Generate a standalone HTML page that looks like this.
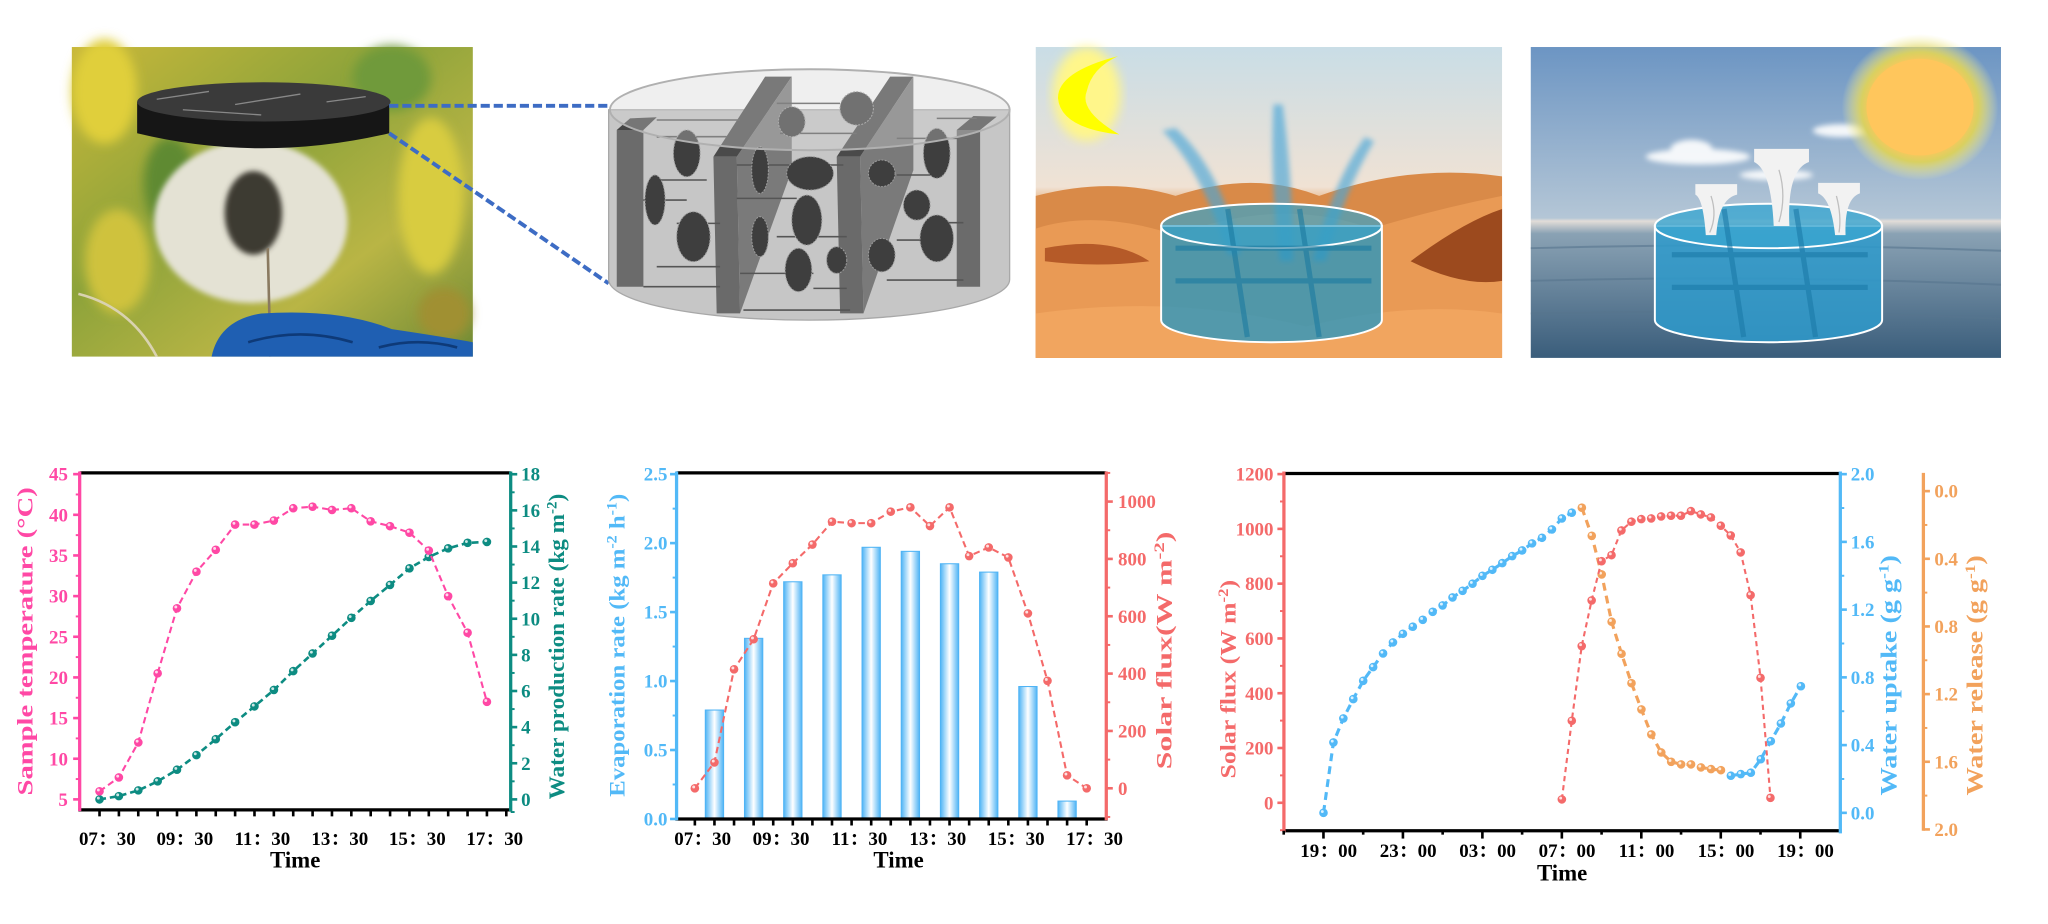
<!DOCTYPE html>
<html><head><meta charset="utf-8">
<style>
html,body{margin:0;padding:0;background:#fff;}
svg{display:block;}
text{font-family:"Liberation Serif","Noto Serif CJK SC",serif;font-weight:bold;}
</style></head>
<body>
<svg id="s" width="2048" height="924" viewBox="0 0 1568 707.4" preserveAspectRatio="none" xmlns="http://www.w3.org/2000/svg">
<defs>
<linearGradient id="bg1" x1="0" y1="0" x2="1" y2="1">
<stop offset="0" stop-color="#c9b83a"/><stop offset="0.4" stop-color="#8da33a"/><stop offset="0.7" stop-color="#b9b545"/><stop offset="1" stop-color="#6f8a35"/></linearGradient>
<filter id="blur4"><feGaussianBlur stdDeviation="4"/></filter>
<filter id="blur2"><feGaussianBlur stdDeviation="2"/></filter>
<linearGradient id="dsky" x1="0" y1="0" x2="0" y2="1">
<stop offset="0" stop-color="#c9dde6"/><stop offset="0.45" stop-color="#f0e2d4"/><stop offset="0.5" stop-color="#e8b283"/><stop offset="0.7" stop-color="#de8a45"/><stop offset="1" stop-color="#f0a55a"/></linearGradient>
<linearGradient id="ssky" x1="0" y1="0" x2="0" y2="1">
<stop offset="0" stop-color="#6c95c3"/><stop offset="0.55" stop-color="#b4c6d6"/><stop offset="0.56" stop-color="#e2ddd8"/><stop offset="0.6" stop-color="#8aa2b4"/><stop offset="1" stop-color="#3a5d7b"/></linearGradient>
<radialGradient id="sun" cx="0.5" cy="0.5" r="0.5">
<stop offset="0.6" stop-color="#ffc65c"/><stop offset="0.75" stop-color="#d9d060"/><stop offset="1" stop-color="#f5f0a0" stop-opacity="0"/></radialGradient>
<linearGradient id="bar" x1="0" y1="0" x2="1" y2="0">
<stop offset="0" stop-color="#4fb4f5"/><stop offset="0.5" stop-color="#ffffff"/><stop offset="1" stop-color="#4fb4f5"/></linearGradient>
</defs>
<g id="g"></g>
</svg>
<script>
var o=[];
function p(s){o.push(s);}
function ln(x1,y1,x2,y2,c,w,d){p('<line x1="'+x1+'" y1="'+y1+'" x2="'+x2+'" y2="'+y2+'" stroke="'+c+'" stroke-width="'+w+'"'+(d?' stroke-dasharray="'+d+'"':'')+'/>');}
function tx(x,y,s,c,fs,anc,extra){p('<text x="'+x+'" y="'+y+'" fill="'+c+'" font-size="'+fs+'" text-anchor="'+(anc||'start')+'" '+(extra||'')+'>'+s+'</text>');}
function rt(x,y,s,c,fs,len){p('<text transform="translate('+x+','+y+') rotate(-90)" fill="'+c+'" font-size="'+fs+'" text-anchor="middle" textLength="'+len+'" lengthAdjust="spacingAndGlyphs">'+s+'</text>');}
function series(pts,c,w,d){var s=pts.map(function(q){return q[0].toFixed(1)+','+q[1].toFixed(1)}).join(' ');
 p('<polyline points="'+s+'" fill="none" stroke="'+c+'" stroke-width="'+w+'" stroke-dasharray="'+d+'"/>');
 pts.forEach(function(q){p('<circle cx="'+q[0].toFixed(1)+'" cy="'+q[1].toFixed(1)+'" r="3.3" fill="'+c+'"/><circle cx="'+(q[0]-0.9).toFixed(1)+'" cy="'+(q[1]-1).toFixed(1)+'" r="1.1" fill="#fff" opacity="0.8"/>');});}
var sup=function(t){return '<tspan dy="-6" font-size="11">'+t+'</tspan><tspan dy="6">';};

/* ========== PHOTO 1 ========== */
p('<rect x="55" y="36" width="307" height="237" fill="url(#bg1)"/>');
p('<g filter="url(#blur4)"><ellipse cx="80" cy="70" rx="25" ry="40" fill="#e0cf3a"/><ellipse cx="330" cy="150" rx="25" ry="60" fill="#d8cc40"/><ellipse cx="300" cy="60" rx="30" ry="25" fill="#6f9a3a"/><ellipse cx="90" cy="200" rx="25" ry="40" fill="#cfc23c"/><ellipse cx="340" cy="240" rx="20" ry="20" fill="#a09030"/><ellipse cx="130" cy="140" rx="20" ry="35" fill="#5e8a30"/></g>');
p('<path d="M60,225 Q100,235 120,273" stroke="#d9d2b0" stroke-width="2" fill="none"/>');
p('<ellipse cx="192" cy="170" rx="74" ry="62" fill="#e4e2d4" filter="url(#blur2)"/>');
p('<ellipse cx="194" cy="163" rx="22" ry="32" fill="#3c3a32" filter="url(#blur2)"/>');
ln(205,190,207,273,"#8a7a60",2);
p('<path d="M105,78 L105,102 Q200,125 298,102 L298,78 Z" fill="#161616"/>');
p('<ellipse cx="202" cy="78" rx="97" ry="15" fill="#3a3a3a"/>');
p('<path d="M120,76 L160,70 M180,80 L230,72 M250,78 L280,74 M140,84 L200,88" stroke="#888" stroke-width="1"/>');
p('<path d="M162,273 Q168,245 200,240 Q260,236 300,252 Q340,258 362,262 L362,273 Z" fill="#1f5fb2"/>');
p('<path d="M190,262 Q230,250 270,262 M290,266 Q320,258 350,266" stroke="#0e3a78" stroke-width="2" fill="none"/>');
/* dashed connectors */
ln(298,81,466,81,"#3d6cc4",3,"7,3");
ln(298,102,466,217,"#3d6cc4",3,"7,3");

/* ========== CYLINDER ========== */
function PX(z){return (580+z/3)/1.306;} function PY(z){return (30+z/3)/1.306;}
p('<path d="M466,84 L466,214 A153,31 0 0 0 773,214 L773,84 Z" fill="#c6c6c6" stroke="#a8a8a8"/>');
function poly(arr,c){p('<polygon points="'+arr.map(function(q){return PX(q[0]).toFixed(1)+','+PY(q[1]).toFixed(1)}).join(' ')+'" fill="'+c+'"/>');}
poly([[110,300],[190,300],[190,770],[110,770]],"#6b6b6b");
poly([[110,300],[150,265],[230,262],[190,300]],"#454545");
poly([[555,140],[635,140],[470,380],[400,380]],"#4a4a4a");
poly([[400,380],[470,380],[480,850],[410,850]],"#6a6a6a");
poly([[470,380],[635,140],[635,420],[480,850]],"#7a7a7a");
poly([[930,140],[1000,140],[840,380],[770,380]],"#4a4a4a");
poly([[770,380],[840,380],[850,850],[780,850]],"#6a6a6a");
poly([[840,380],[1000,140],[1000,420],[850,850]],"#7a7a7a");
poly([[1130,300],[1200,300],[1200,770],[1130,770]],"#6b6b6b");
poly([[1130,300],[1180,258],[1250,260],[1200,300]],"#454545");
[[230,270,480],[230,320,440],[230,450,380],[190,510,320],[290,580,420],[230,710,420],[190,770,420],[590,220,780],[600,310,830],[470,405,790],[470,505,650],[590,620,800],[480,730,700],[700,775,800],[490,840,810],[950,325,1130],[950,435,1060],[1050,578,1150],[950,630,1100],[920,750,1150],[1070,265,1190]].forEach(function(r){ln(PX(r[0]),PY(r[1]),PX(r[2]),PY(r[1]),"#555",1.2);});
[[320,370,40,70],[225,510,30,75],[340,620,50,75],[635,275,40,45],[830,235,50,50],[540,420,25,70],[690,430,70,50],[680,570,45,75],[540,620,25,60],[655,720,40,65],[770,690,30,40],[905,430,40,40],[1010,525,40,45],[905,675,40,50],[1070,370,40,75],[1070,625,50,70]].forEach(function(b){
 p('<ellipse cx="'+PX(b[0]).toFixed(1)+'" cy="'+PY(b[1]).toFixed(1)+'" rx="'+(b[2]/3/1.306).toFixed(1)+'" ry="'+(b[3]/3/1.306).toFixed(1)+'" fill="#3e3e3e" stroke="#9a9a9a" stroke-width="0.8" stroke-dasharray="1.5,1"/>');});
p('<ellipse cx="620" cy="84" rx="153" ry="31" fill="#d0d0d0" fill-opacity="0.35" stroke="#b0b0b0" stroke-width="1.5"/>');

/* ========== DESERT ========== */
p('<rect x="793" y="36" width="357" height="238" fill="url(#dsky)"/>');
p('<path d="M793,150 Q850,135 900,150 Q960,130 1010,150 Q1080,125 1150,135 L1150,274 L793,274 Z" fill="#d98a48"/>');
p('<path d="M793,175 Q840,160 900,180 Q980,150 1050,175 Q1100,160 1150,150 L1150,274 L793,274 Z" fill="#e99a55"/>');
p('<path d="M1080,200 Q1120,170 1150,160 L1150,215 Q1120,220 1080,200 Z" fill="#9c4a1e"/>');
p('<path d="M800,190 Q850,180 880,200 Q840,205 800,200 Z" fill="#b55a28"/>');
p('<path d="M793,240 Q900,225 1000,250 Q1080,230 1150,240 L1150,274 L793,274 Z" fill="#f2a862" opacity="0.8"/>');
p('<g filter="url(#blur2)" opacity="0.65"><path d="M890,100 Q920,130 940,195 L950,195 Q935,130 900,98 Z" fill="#4aa6d8"/><path d="M975,80 Q972,140 980,200 L990,200 Q990,140 982,80 Z" fill="#4aa6d8"/><path d="M1045,105 Q1020,140 1005,200 L1015,200 Q1030,145 1052,108 Z" fill="#4aa6d8"/></g>');
p('<g filter="url(#blur4)"><ellipse cx="832" cy="72" rx="26" ry="36" fill="#fff68a"/></g>');
p('<path d="M856,43 Q810,55 810,75 Q812,98 857,103 Q826,85 832,70 Q836,52 856,43 Z" fill="#ffff00"/>');
p('<path d="M889,173 L889,245 A84.5,17 0 0 0 1058,245 L1058,173 Z" fill="#2796c0" fill-opacity="0.78" stroke="#fff" stroke-width="1.5"/>');
p('<ellipse cx="973.5" cy="173" rx="84.5" ry="17" fill="#3aa3c8" fill-opacity="0.7" stroke="#fff" stroke-width="1.5"/>');
p('<path d="M940,160 L955,258 M995,160 L1010,258 M900,190 L1050,190 M900,215 L1050,215" stroke="#1b7aa0" stroke-width="4" opacity="0.6"/>');

/* ========== SEA ========== */
p('<rect x="1172" y="36" width="360" height="238" fill="url(#ssky)"/>');
p('<g filter="url(#blur2)" fill="#ffffff" opacity="0.9"><ellipse cx="1300" cy="120" rx="40" ry="6"/><ellipse cx="1295" cy="114" rx="16" ry="7"/><ellipse cx="1360" cy="134" rx="28" ry="4"/><ellipse cx="1410" cy="100" rx="22" ry="5"/></g>');
p('<ellipse cx="1470" cy="82" rx="60" ry="56" fill="url(#sun)"/>');
p('<ellipse cx="1470" cy="82" rx="41" ry="37" fill="#ffc65c"/>');
p('<path d="M1172,190 Q1350,185 1532,192 M1172,215 Q1350,210 1532,218 M1172,240 Q1350,236 1532,244" stroke="#56748e" stroke-width="1.5" fill="none" opacity="0.6"/>');
p('<path d="M1267,173 L1267,245 A87,17 0 0 0 1441,245 L1441,173 Z" fill="#2e9acb" fill-opacity="0.85" stroke="#fff" stroke-width="1.5"/>');
p('<ellipse cx="1354" cy="173" rx="87" ry="17" fill="#3aa5d0" fill-opacity="0.8" stroke="#fff" stroke-width="1.5"/>');
p('<path d="M1320,160 L1335,258 M1375,160 L1390,258 M1280,195 L1430,195 M1280,220 L1430,220" stroke="#1b7aa8" stroke-width="4" opacity="0.6"/>');
p('<g fill="#f2f2f2"><path d="M1298,141 L1330,141 L1330,149 Q1316,152 1314,180 L1306,180 Q1304,152 1298,149 Z"/><path d="M1343,114 L1385,114 L1385,124 Q1368,130 1370,173 L1358,173 Q1356,130 1343,124 Z"/><path d="M1392,140 L1424,140 L1424,148 Q1412,152 1413,180 L1405,180 Q1402,152 1392,148 Z"/></g>');
p('<g stroke="#aaa" stroke-width="1" fill="none" opacity="0.7"><path d="M1310,150 Q1315,165 1309,178"/><path d="M1362,130 Q1368,150 1362,170"/><path d="M1406,150 Q1410,165 1408,178"/></g>');

/* ========== CHART 1 ========== */
var PK="#ff48a5",TL="#0d8c82";
var x1=function(i){return 76.2+i*14.83;};
var yT=function(t){return 612-(t-5)*6.225;};
var yW=function(w){return 612-w*13.83;};
ln(61,362,391,362,"#000",2.5); ln(60,620,392,620,"#000",2.5);
ln(61,361,61,621,PK,2.5); ln(391,361,391,621,TL,2.5);
for(var t=5;t<=45;t+=5){ln(56,yT(t),61,yT(t),PK,2); tx(52,yT(t)+5,t,PK,14.5,"end");}
for(var t=7.5;t<45;t+=5){ln(58,yT(t),61,yT(t),PK,1.5);}
for(var w=0;w<=18;w+=2){ln(391,yW(w),396,yW(w),TL,2); tx(399,yW(w)+5,w,TL,14.5,"start");}
for(var w=1;w<18;w+=2){ln(391,yW(w),394,yW(w),TL,1.5);}
ln(391,yW(-0.7),394,yW(-0.7),TL,1.5);
for(var i=0;i<=21;i++){ln(x1(i),620,x1(i),625,"#000",2);}
["07：30","09：30","11：30","13：30","15：30","17：30"].forEach(function(s,k){tx(x1(k*4)+6,647,s,"#000",14.5,"middle");});
tx(226,664,"Time","#000",17.5,"middle");
rt(25,491,"Sample temperature (°C)",PK,17,236);
rt(432,495,"Water production rate (kg m"+sup("-2")+")</tspan>",TL,17,234);
var T=[6,7.7,12,20.5,28.5,33,35.7,38.8,38.8,39.3,40.8,41,40.6,40.8,39.2,38.6,37.8,35.6,30,25.5,17];
var W=[0,0.18,0.5,1.0,1.64,2.45,3.33,4.27,5.15,6.06,7.1,8.08,9.06,10.05,10.98,11.87,12.79,13.42,13.9,14.2,14.25];
series(W.map(function(v,i){return [x1(i),yW(v)];}),TL,2,"5,3");
series(T.map(function(v,i){return [x1(i),yT(v)];}),PK,1.6,"5,3");

/* ========== CHART 2 ========== */
var BL="#52b9f7",RD="#f46a6a";
var x2=function(i){return 532+i*15.0;};
var yB=function(v){return 627-v*105.6;};
var yR=function(v){return 603.5-v*0.2195;};
var bars=[0.79,1.31,1.72,1.77,1.97,1.94,1.85,1.79,0.96,0.13];
bars.forEach(function(v,k){var cx=x2(1+2*k);p('<rect x="'+(cx-7)+'" y="'+yB(v).toFixed(1)+'" width="14" height="'+(627-yB(v)).toFixed(1)+'" fill="url(#bar)" stroke="#4fb4f5" stroke-width="0.8"/>');});
ln(518,362,847,362,"#000",2.5); ln(517,627,848,627,"#000",2.5);
ln(518,361,518,628,BL,2.5); ln(847,361,847,628,RD,2.5);
for(var v=0;v<=5;v++){var y=yB(v*0.5);ln(513,y,518,y,BL,2);tx(511,y+5,(v*0.5).toFixed(1),BL,14.5,"end");}
for(var v=0;v<5;v++){var y=yB(v*0.5+0.25);ln(515,y,518,y,BL,1.5);}
for(var v=0;v<=1000;v+=200){ln(847,yR(v),852,yR(v),RD,2);tx(856,yR(v)+5,v,RD,14.5,"start");}
for(var v=-100;v<=1100;v+=200){ln(847,yR(v),850,yR(v),RD,1.5);}
for(var i=0;i<=20;i++){ln(x2(i),627,x2(i),632,"#000",2);}
["07：30","09：30","11：30","13：30","15：30","17：30"].forEach(function(s,k){tx(x2(k*4)+6,647,s,"#000",14.5,"middle");});
tx(688,664,"Time","#000",17.5,"middle");
rt(478,494,"Evaporation rate (kg m"+sup("-2")+" h"+sup("-1")+")</tspan></tspan>",BL,17,232);
rt(897,498,"Solar flux(W m"+sup("-2")+")</tspan>",RD,17,182);
var R=[0,90,415,520,715,785,850,930,925,925,965,980,915,980,810,840,805,610,375,45,0];
series(R.map(function(v,i){return [x2(i),yR(v)];}),RD,1.6,"5,3");

/* ========== CHART 3 ========== */
var OR="#f2a25c";
var X3=function(z){return (1240+z/3)/1.306;}, Y3=function(z){return (450+z/3)/1.306;};
var yr3=function(v){return 614.6-v*0.2097;};
var yb3=function(v){return 622.3-v*129.65;};
var yo3=function(v){return 376+v*129.5;};
ln(983,362.5,1409,362.5,"#000",2.5); ln(982,636,1410,636,"#000",2.5);
ln(983,361,983,637,RD,2.5); ln(1409,361,1409,638,BL,2.5); ln(1472.6,362,1472.6,636,OR,2.5);
for(var v=0;v<=1200;v+=200){ln(978,yr3(v),983,yr3(v),RD,2);tx(975,yr3(v)+5,v,RD,14.5,"end");}
for(var v=-100;v<1200;v+=200){ln(980,yr3(v),983,yr3(v),RD,1.5);}
for(var k=0;k<=5;k++){var v=k*0.4;ln(1409,yb3(v),1414,yb3(v),BL,2);tx(1417,yb3(v)+5,v.toFixed(1),BL,14.5,"start");
 ln(1472.6,yo3(v),1477.6,yo3(v),OR,2);tx(1481,yo3(v)+5,v.toFixed(1),OR,14.5,"start");}
for(var k=0;k<5;k++){var v=k*0.4+0.2;ln(1409,yb3(v),1412,yb3(v),BL,1.5);ln(1472.6,yo3(v),1475.6,yo3(v),OR,1.5);}
for(var k=-1;k<=12;k++){var x=X3(250)+k*30.42;ln(x,636,x,(k%2==0)?642:639,"#000",2);}
["19：00","23：00","03：00","07：00","11：00","15：00","19：00"].forEach(function(s,k){tx(X3(250)+k*60.84+4,656,s,"#000",14.5,"middle");});
tx(1196,674,"Time","#000",17.5,"middle");
rt(946,520,"Solar flux (W m"+sup("-2")+")</tspan>",RD,17,152);
rt(1452,517,"Water uptake (g g"+sup("-1")+")</tspan>",BL,18,184);
rt(1518,517,"Water release (g g"+sup("-1")+")</tspan>",OR,18,184);
var bx=[],by=[1088,877,805,747,692,651,610,577,551,530,509,485,466,442,422,401,377,359,339,318,301,280,263,238,205,188];
var blue1=by.map(function(y,i){return [X3(250+i*29.8),Y3(y)];});
var blue2=[[1472,977],[1502,972],[1532,968],[1562,927],[1592,873],[1622,820],[1652,760],[1682,708]].map(function(q){return [X3(q[0]),Y3(q[1])];});
var ry=[1048,812,588,451,333,315,241,215,207,205,199,197,197,183,193,202,227,256,307,435,683,1043];
var red3=ry.map(function(y,i){return [X3(965+i*29.8),Y3(y)];});
var oy=[173,257,373,515,611,699,778,853,907,935,943,943,952,957,960];
var or3=oy.map(function(y,i){return [X3(1025+i*29.8),Y3(y)];});
series(blue1,BL,2.4,"6,4");
series(blue2,BL,2.4,"6,4");
series(or3,OR,2.4,"6,4");
series(red3,RD,1.6,"4,3");

document.getElementById('g').innerHTML=o.join('');
</script>
</body></html>
